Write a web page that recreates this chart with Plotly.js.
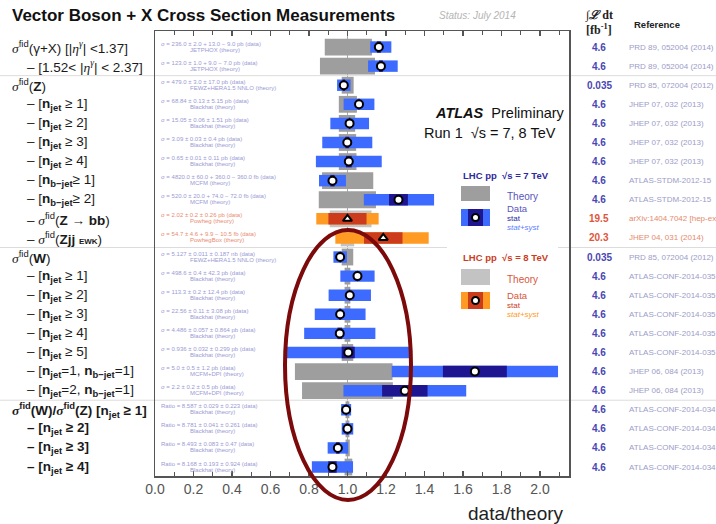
<!DOCTYPE html>
<html>
<head>
<meta charset="utf-8">
<script src="https://cdn.plot.ly/plotly-3.0.1.min.js"></script>
<style>
  html, body { margin: 0; padding: 0; background: #fff; }
  #chart { width: 716px; height: 524px; }
</style>
</head>
<body>
<div id="chart"></div>
<script>
// ---- label building blocks ----
const SERIF = 'font-family:Liberation Serif;font-style:italic';
const SIG = '<span style="' + SERIF + '">σ</span><sup>fid</sup>';
const ETA = '<span style="' + SERIF + '">η</span><sup><span style="' + SERIF + '">γ</span></sup>';
const NJ = '<b>n<sub>jet</sub></b>';
const NB = '<b>n<sub>b−jet</sub></b>';

// ---- measurements (one entry per row, top to bottom) ----
const rowLabels = [
  SIG + '(γ+X) [|' + ETA + '| <1.37]',
  '– [1.52< |' + ETA + '| < 2.37]',
  SIG + '(<b>Z</b>)',
  '– [' + NJ + ' ≥ 1]',
  '– [' + NJ + ' ≥ 2]',
  '– [' + NJ + ' ≥ 3]',
  '– [' + NJ + ' ≥ 4]',
  '– [' + NB + '≥ 1]',
  '– [' + NB + '≥ 2]',
  '– ' + SIG + '(<b>Z → bb</b>)',
  '– ' + SIG + '(<b>Zjj</b> <span style="font-size:8px"><b>EWK</b></span>)',
  SIG + '(<b>W</b>)',
  '– [' + NJ + ' ≥ 1]',
  '– [' + NJ + ' ≥ 2]',
  '– [' + NJ + ' ≥ 3]',
  '– [' + NJ + ' ≥ 4]',
  '– [' + NJ + ' ≥ 5]',
  '– [' + NJ + '=1, ' + NB + '=1]',
  '– [' + NJ + '=2, ' + NB + '=1]',
  '<b>' + SIG + '(W)/' + SIG + '(Z) [n<sub>jet</sub> ≥ 1]</b>',
  '<b>– [n<sub>jet</sub> ≥ 2]</b>',
  '<b>– [n<sub>jet</sub> ≥ 3]</b>',
  '<b>– [n<sub>jet</sub> ≥ 4]</b>'
];

const sqrtS = [7, 7, 7, 7, 7, 7, 7, 7, 7, 8, 8, 7, 7, 7, 7, 7, 7, 7, 7, 7, 7, 7, 7];

// data / theory central values
const ratio    = [1.163, 1.174, 0.981, 1.060, 1.011, 0.999, 1.007, 0.922, 1.265, 1.000, 1.186,
                  0.962, 1.052, 1.012, 0.962, 0.960, 1.004, 1.662, 1.298, 0.993, 1.000, 0.950, 0.922];
// stat+syst band
const totLo    = [1.118, 1.107, 0.946, 0.980, 0.911, 0.869, 0.836, 0.852, 1.085, 0.838, 0.937,
                  0.927, 0.963, 0.902, 0.830, 0.775, 0.682, 1.230, 0.979, 0.967, 0.970, 0.897, 0.815];
const totHi    = [1.228, 1.261, 1.016, 1.140, 1.112, 1.129, 1.178, 0.992, 1.450, 1.162, 1.422,
                  0.997, 1.141, 1.122, 1.094, 1.145, 1.326, 2.094, 1.617, 1.019, 1.030, 1.003, 1.029];
// stat band
const statLo   = [1.153, 1.164, 0.975, 1.058, 1.007, 0.989, 0.992, 0.911, 1.216, 0.901, 1.086,
                  0.960, 1.051, 1.010, 0.957, 0.948, 0.970, 1.496, 1.180, 0.990, 0.995, 0.941, 0.900];
const statHi   = [1.173, 1.184, 0.987, 1.062, 1.015, 1.009, 1.022, 0.933, 1.314, 1.099, 1.286,
                  0.964, 1.053, 1.014, 0.967, 0.972, 1.038, 1.828, 1.416, 0.996, 1.005, 0.959, 0.944];
// theory uncertainty band
const theoryLo = [0.882, 0.857, 0.970, 0.955, 0.955, 0.955, 0.955, 0.868, 0.851, 0.908, 0.965,
                  0.970, 0.985, 0.985, 0.985, 0.985, 0.970, 0.727, 0.764, 0.990, 0.990, 0.990, 0.985];
const theoryHi = [1.127, 1.143, 1.032, 1.049, 1.040, 1.045, 1.047, 1.134, 1.148, 1.125, 1.035,
                  1.030, 1.015, 1.015, 1.015, 1.015, 1.030, 1.234, 1.236, 1.010, 1.010, 1.012, 1.025];

const dataText = [
  'σ = 236.0 ± 2.0 + 13.0 − 9.0 pb (data)',
  'σ = 123.0 ± 1.0 + 9.0 − 7.0 pb (data)',
  'σ = 479.0 ± 3.0 ± 17.0 pb (data)',
  'σ = 68.84 ± 0.13 ± 5.15 pb (data)',
  'σ = 15.05 ± 0.06 ± 1.51 pb (data)',
  'σ = 3.09 ± 0.03 ± 0.4 pb (data)',
  'σ = 0.65 ± 0.01 ± 0.11 pb (data)',
  'σ = 4820.0 ± 60.0 + 360.0 − 360.0 fb (data)',
  'σ = 520.0 ± 20.0 + 74.0 − 72.0 fb (data)',
  'σ = 2.02 ± 0.2 ± 0.26 pb (data)',
  'σ = 54.7 ± 4.6 + 9.9 − 10.5 fb (data)',
  'σ = 5.127 ± 0.011 ± 0.187 nb (data)',
  'σ = 498.6 ± 0.4 ± 42.3 pb (data)',
  'σ = 113.3 ± 0.2 ± 12.4 pb (data)',
  'σ = 22.56 ± 0.11 ± 3.08 pb (data)',
  'σ = 4.486 ± 0.057 ± 0.864 pb (data)',
  'σ = 0.936 ± 0.032 ± 0.299 pb (data)',
  'σ = 5.0 ± 0.5 ± 1.2 pb (data)',
  'σ = 2.2 ± 0.2 ± 0.5 pb (data)',
  'Ratio = 8.587 ± 0.029 ± 0.223 (data)',
  'Ratio = 8.781 ± 0.041 ± 0.261 (data)',
  'Ratio = 8.493 ± 0.083 ± 0.47 (data)',
  'Ratio = 8.168 ± 0.193 ± 0.924 (data)'
];

const theoryText = [
  'JETPHOX (theory)', 'JETPHOX (theory)', 'FEWZ+HERA1.5 NNLO (theory)',
  'Blackhat (theory)', 'Blackhat (theory)', 'Blackhat (theory)', 'Blackhat (theory)',
  'MCFM (theory)', 'MCFM (theory)', 'Powheg (theory)', 'PowhegBox (theory)',
  'FEWZ+HERA1.5 NNLO (theory)',
  'Blackhat (theory)', 'Blackhat (theory)', 'Blackhat (theory)', 'Blackhat (theory)', 'Blackhat (theory)',
  'MCFM+DPI (theory)', 'MCFM+DPI (theory)',
  'Blackhat (theory)', 'Blackhat (theory)', 'Blackhat (theory)', 'Blackhat (theory)'
];

const lumi = ['4.6', '4.6', '0.035', '4.6', '4.6', '4.6', '4.6', '4.6', '4.6', '19.5', '20.3',
              '0.035', '4.6', '4.6', '4.6', '4.6', '4.6', '4.6', '4.6', '4.6', '4.6', '4.6', '4.6'];

const references = [
  'PRD 89, 052004 (2014)', 'PRD 89, 052004 (2014)', 'PRD 85, 072004 (2012)',
  'JHEP 07, 032 (2013)', 'JHEP 07, 032 (2013)', 'JHEP 07, 032 (2013)', 'JHEP 07, 032 (2013)',
  'ATLAS-STDM-2012-15', 'ATLAS-STDM-2012-15', 'arXiv:1404.7042 [hep-ex]', 'JHEP 04, 031 (2014)',
  'PRD 85, 072004 (2012)',
  'ATLAS-CONF-2014-035', 'ATLAS-CONF-2014-035', 'ATLAS-CONF-2014-035', 'ATLAS-CONF-2014-035', 'ATLAS-CONF-2014-035',
  'JHEP 06, 084 (2013)', 'JHEP 06, 084 (2013)',
  'ATLAS-CONF-2014-034', 'ATLAS-CONF-2014-034', 'ATLAS-CONF-2014-034', 'ATLAS-CONF-2014-034'
];

// rows after which a group separator is drawn
const groupBreaks = [1.5, 10.5, 18.5];

// ---- colours ----
const C = {
  theory7: '#9e9e9e', theory8: '#c3c3c3',
  tot7: '#3d6bff', stat7: '#1e1690',
  tot8: '#ff9a22', stat8: '#cc3c1c',
  text7: '#9a9ad4', text8: '#e98b70',
  lumi7: '#4a46b4', lumi8: '#e0553a',
  ref7: '#9c9cc8', ref8: '#e58a6c'
};

// ---- page geometry (pixels) ----
const PL = 155, PR = 569, PT = 31, PB = 476;
const Y_BOTTOM = 22.47, Y_TOP = -0.84;
const px = x => (x - PL) / (PR - PL);
const py = y => (PB - y) / (PB - PT);
const rowPaper = r => (Y_BOTTOM - r) / (Y_BOTTOM - Y_TOP);

const idx = rowLabels.map((_, i) => i);
const rows7 = idx.filter(i => sqrtS[i] === 7);
const rows8 = idx.filter(i => sqrtS[i] === 8);

function band(sel, lo, hi, color, width) {
  return {
    type: 'bar', orientation: 'h',
    y: sel, base: sel.map(i => lo[i]), x: sel.map(i => hi[i] - lo[i]),
    width: width, marker: { color: color, line: { width: 0 } },
    hoverinfo: 'skip', showlegend: false
  };
}

function points(sel, symbol) {
  return {
    type: 'scatter', mode: 'markers',
    x: sel.map(i => ratio[i]), y: sel,
    marker: { symbol: symbol, size: 8, color: '#ffffff', line: { color: '#000000', width: 2 } },
    hoverinfo: 'skip', showlegend: false
  };
}

const traces = [
  band(rows7, theoryLo, theoryHi, C.theory7, 0.88),
  band(rows8, theoryLo, theoryHi, C.theory8, 0.88),
  band(rows7, totLo, totHi, C.tot7, 0.6),
  band(rows8, totLo, totHi, C.tot8, 0.6),
  band(rows7, statLo, statHi, C.stat7, 0.6),
  band(rows8, statLo, statHi, C.stat8, 0.6),
  points(rows7, 'circle'),
  points(rows8, 'triangle-up')
];

// ---- annotations ----
const ann = [];
const SANS = 'Liberation Sans';

function note(x, y, text, opts) {
  ann.push(Object.assign({
    xref: 'paper', yref: 'paper', x: px(x), y: py(y), text: text,
    showarrow: false, xanchor: 'left', yanchor: 'middle',
    font: { family: SANS, size: 10, color: '#222' }
  }, opts || {}));
}

// title and status
note(10, 16, '<b>Vector Boson + X Cross Section Measurements</b>', { font: { family: SANS, size: 17, color: '#111' } });
note(437, 16, '<i>Status: July 2014</i>', { font: { family: SANS, size: 10, color: '#b4b4b4' } });

// column headers
note(599, 15, '<b>∫<i>ℒ</i> dt</b>', { xanchor: 'center', font: { family: 'Liberation Serif', size: 12, color: '#222' } });
note(599, 30, '<b>[fb<sup>-1</sup>]</b>', { xanchor: 'center', font: { family: 'Liberation Serif', size: 12, color: '#222' } });
note(657, 24, '<b>Reference</b>', { xanchor: 'center', font: { family: SANS, size: 9.5, color: '#222' } });

// per-row texts
idx.forEach(i => {
  const is8 = sqrtS[i] === 8;
  const dash = rowLabels[i].indexOf('–');
  const indented = dash !== -1 && dash < 5;
  ann.push({
    xref: 'paper', yref: 'y', x: px(indented ? 25 : 10), y: i, text: rowLabels[i],
    showarrow: false, xanchor: 'left', yanchor: 'middle',
    font: { family: SANS, size: 13.5, color: '#1a1a1a' }
  });
  ann.push({
    xref: 'paper', yref: 'y', x: px(159), y: i, yshift: 3.5, text: dataText[i],
    showarrow: false, xanchor: 'left', yanchor: 'middle',
    font: { family: SANS, size: 6, color: is8 ? C.text8 : C.text7 }
  });
  ann.push({
    xref: 'paper', yref: 'y', x: px(188), y: i, yshift: -2.5, text: theoryText[i],
    showarrow: false, xanchor: 'left', yanchor: 'middle',
    font: { family: SANS, size: 6, color: is8 ? C.text8 : C.text7 }
  });
  ann.push({
    xref: 'paper', yref: 'y', x: px(599), y: i, text: '<b>' + lumi[i] + '</b>',
    showarrow: false, xanchor: 'center', yanchor: 'middle',
    font: { family: SANS, size: 10, color: is8 ? C.lumi8 : C.lumi7 }
  });
  ann.push({
    xref: 'paper', yref: 'y', x: px(627), y: i, text: references[i],
    showarrow: false, xanchor: 'left', yanchor: 'middle',
    font: { family: SANS, size: 8, color: is8 ? C.ref8 : C.ref7 }
  });
});

// experiment label
note(433, 113, '<b><i>ATLAS</i></b>  Preliminary', { font: { family: SANS, size: 14.5, color: '#111' } });
note(422, 133, 'Run 1  √s = 7, 8 TeV', { font: { family: SANS, size: 14.5, color: '#111' } });

// legend
note(461, 175, '<b>LHC pp  √s = 7 TeV</b>', { font: { family: SANS, size: 9.5, color: '#2e2a9c' } });
note(505, 196, 'Theory', { font: { family: SANS, size: 10, color: '#5a56bc' } });
note(505, 208, 'Data', { font: { family: SANS, size: 9.5, color: '#5a56bc' } });
note(505, 218, 'stat', { font: { family: SANS, size: 8, color: '#2e2a9c' } });
note(505, 227, '<i>stat+syst</i>', { font: { family: SANS, size: 8, color: '#5b7dff' } });

note(461, 257, '<b>LHC pp  √s = 8 TeV</b>', { font: { family: SANS, size: 9.5, color: '#cc3c1c' } });
note(505, 279, 'Theory', { font: { family: SANS, size: 10, color: '#d9573c' } });
note(505, 295, 'Data', { font: { family: SANS, size: 9.5, color: '#d9573c' } });
note(505, 305, 'stat', { font: { family: SANS, size: 8, color: '#cc3c1c' } });
note(505, 314, '<i>stat+syst</i>', { font: { family: SANS, size: 8, color: '#ff9a22' } });

// x axis title
note(566, 513, 'data/theory', { xanchor: 'right', font: { family: SANS, size: 19, color: '#222' } });

// ---- shapes ----
const shapes = [];
function rect(x0, y0, x1, y1, color) {
  shapes.push({ type: 'rect', xref: 'paper', yref: 'paper', x0: px(x0), x1: px(x1), y0: py(y1), y1: py(y0),
    fillcolor: color, line: { width: 0 }, layer: 'above' });
}
function dot(cx, cy, r) {
  shapes.push({ type: 'circle', xref: 'paper', yref: 'paper',
    x0: px(cx - r), x1: px(cx + r), y0: py(cy + r), y1: py(cy - r),
    fillcolor: '#fff', line: { color: '#000', width: 2 }, layer: 'above' });
}

// reference line at data/theory = 1
shapes.push({ type: 'line', xref: 'x', yref: 'paper', x0: 1, x1: 1, y0: 0, y1: 1,
  line: { color: '#a8a8a8', width: 1 }, layer: 'below' });

// group separators, interrupted by the legend
groupBreaks.forEach(r => {
  const yy = rowPaper(r);
  const spans = r === 10.5 ? [[0, 447], [558, 716]] : [[0, 716]];
  spans.forEach(s => shapes.push({ type: 'line', xref: 'paper', yref: 'paper',
    x0: px(s[0]), x1: px(s[1]), y0: yy, y1: yy, line: { color: '#dcdcdc', width: 1 }, layer: 'below' }));
});

// legend swatches
rect(461, 186, 490, 201, C.theory7);
rect(461, 209, 490, 226, C.tot7);
rect(468, 209, 483, 226, C.stat7);
dot(475.5, 217.5, 3.5);
rect(461, 269, 490, 285, C.theory8);
rect(461, 292, 490, 309, C.tot8);
rect(468, 292, 483, 309, C.stat8);
dot(475.5, 300.5, 3.5);

// highlighting ellipse
shapes.push({ type: 'circle', xref: 'paper', yref: 'paper',
  x0: px(285), x1: px(411), y0: py(500), y1: py(230),
  line: { color: '#7c0a0a', width: 4 }, fillcolor: 'rgba(0,0,0,0)', layer: 'above' });

const layout = {
  width: 716, height: 524,
  margin: { l: PL, r: 716 - PR, t: PT, b: 524 - PB, pad: 0 },
  paper_bgcolor: '#ffffff', plot_bgcolor: '#ffffff',
  barmode: 'overlay', hovermode: false, showlegend: false,
  xaxis: {
    range: [0, 2.151], showgrid: false, zeroline: false,
    showline: true, linecolor: '#555', linewidth: 1.5, mirror: 'ticks',
    ticks: 'inside', ticklen: 5, tickwidth: 1.2, tickcolor: '#555',
    tick0: 0, dtick: 0.2, tickformat: '.1f',
    minor: { dtick: 0.1, ticks: 'inside', ticklen: 4, tickcolor: '#555', tickwidth: 1.2 },
    tickfont: { family: SANS, size: 14, color: '#555' }
  },
  yaxis: {
    range: [Y_BOTTOM, Y_TOP], showgrid: false, zeroline: false,
    showline: true, linecolor: '#555', linewidth: 1.5, mirror: true,
    showticklabels: false, ticks: ''
  },
  annotations: ann,
  shapes: shapes
};

Plotly.newPlot('chart', traces, layout, { staticPlot: true, displayModeBar: false });
</script>
</body>
</html>
